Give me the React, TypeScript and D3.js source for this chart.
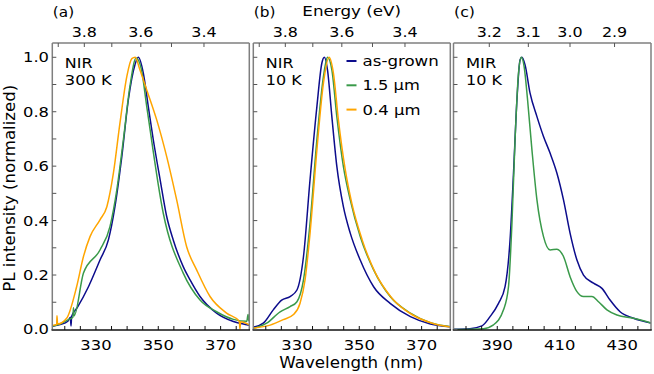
import React from "react";
import * as d3 from "d3";

const W = 654, H = 374;

// Panel (a) NIR 300 K
const aBlueNm = [316.0, 318.5, 321.0, 321.8, 322.0, 322.2, 324.0, 327.6, 331.3, 334.0, 336.1, 338.3, 340.4, 342.5, 343.6, 345.2, 346.8, 348.4, 350.6, 352.7, 354.8, 358.0, 360.2, 363.4, 368.7, 374.1, 378.4, 379.2];
const aBlueV = [0.012, 0.018, 0.03, 0.045, 0.013, 0.048, 0.08, 0.157, 0.255, 0.329, 0.451, 0.635, 0.844, 0.972, 1.0, 0.942, 0.819, 0.697, 0.55, 0.415, 0.329, 0.231, 0.182, 0.121, 0.06, 0.029, 0.017, 0.015];
const aGreenNm = [316.0, 318.5, 321.0, 322.6, 322.8, 323.0, 326.0, 331.3, 334.5, 336.7, 338.8, 340.9, 342.9, 344.5, 346.3, 351.6, 358.0, 363.4, 368.7, 374.1, 378.4, 378.8, 379.0, 379.2];
const aGreenV = [0.012, 0.02, 0.035, 0.045, 0.08, 0.05, 0.207, 0.292, 0.378, 0.513, 0.697, 0.893, 0.997, 0.96, 0.819, 0.427, 0.207, 0.108, 0.065, 0.037, 0.03, 0.055, 0.035, 0.03];
const aOrangeNm = [316.0, 317.4, 317.5, 317.7, 320.6, 323.8, 326.0, 328.1, 331.3, 333.5, 335.6, 337.7, 339.9, 341.5, 342.6, 344.1, 346.3, 349.5, 352.7, 355.9, 359.1, 362.3, 366.6, 371.9, 376.0, 376.2, 376.4, 379.2];
const aOrangeV = [0.015, 0.018, 0.05, 0.02, 0.041, 0.157, 0.268, 0.341, 0.403, 0.451, 0.574, 0.758, 0.929, 0.995, 1.0, 0.954, 0.88, 0.77, 0.635, 0.476, 0.304, 0.219, 0.121, 0.06, 0.03, 0.002, 0.028, 0.017];

// Panel (b) NIR 10 K
const bBlueNm = [316.0, 319.2, 322.4, 325.1, 327.8, 330.0, 332.1, 334.2, 336.4, 338.0, 338.8, 339.8, 341.2, 342.8, 344.9, 347.1, 350.3, 354.6, 359.9, 366.4, 372.8, 379.2];
const bBlueV = [0.008, 0.023, 0.072, 0.108, 0.121, 0.145, 0.268, 0.55, 0.819, 0.979, 1.0, 0.954, 0.782, 0.599, 0.451, 0.354, 0.255, 0.157, 0.096, 0.047, 0.02, 0.01];
const bGreenNm = [316.0, 320.3, 324.6, 327.8, 330.0, 332.1, 334.2, 336.4, 338.5, 339.8, 341.2, 342.8, 344.9, 347.1, 350.3, 354.6, 359.9, 366.4, 372.8, 379.2];
const bGreenV = [0.004, 0.023, 0.065, 0.084, 0.102, 0.182, 0.39, 0.697, 0.929, 1.0, 0.954, 0.782, 0.599, 0.476, 0.341, 0.219, 0.121, 0.06, 0.025, 0.01];
const bOrangeNm = [316.0, 321.4, 325.6, 328.9, 331.0, 332.6, 334.2, 336.4, 338.5, 340.3, 341.7, 343.3, 345.5, 347.6, 350.9, 355.2, 360.5, 367.0, 373.4, 379.2];
const bOrangeV = [0.005, 0.016, 0.036, 0.055, 0.096, 0.182, 0.353, 0.66, 0.905, 1.0, 0.942, 0.77, 0.587, 0.464, 0.33, 0.207, 0.115, 0.054, 0.023, 0.009];

// Panel (c) MIR 10 K
const cBlueNm = [376.0, 381.3, 385.1, 387.7, 390.4, 392.5, 394.1, 395.2, 396.3, 397.3, 397.9, 398.9, 400.5, 402.7, 404.8, 406.9, 409.1, 411.2, 413.3, 415.5, 417.6, 420.8, 423.5, 426.1, 429.3, 433.6, 439.2];
const cBlueV = [0.001, 0.003, 0.013, 0.047, 0.096, 0.157, 0.329, 0.574, 0.844, 0.99, 1.0, 0.972, 0.868, 0.782, 0.709, 0.648, 0.574, 0.476, 0.354, 0.255, 0.2, 0.17, 0.151, 0.108, 0.065, 0.041, 0.024];
const cGreenNm = [376.0, 385.6, 388.8, 392.0, 393.6, 394.7, 395.7, 396.8, 397.7, 398.6, 399.7, 401.1, 402.7, 404.8, 406.9, 409.1, 411.2, 413.3, 415.5, 417.6, 420.3, 422.4, 425.1, 428.3, 433.6, 439.2];
const cGreenV = [0.0, 0.003, 0.017, 0.072, 0.157, 0.39, 0.697, 0.942, 1.0, 0.966, 0.844, 0.66, 0.476, 0.341, 0.292, 0.295, 0.268, 0.194, 0.139, 0.121, 0.121, 0.102, 0.072, 0.053, 0.041, 0.024];

const seriesNames = ["as-grown", "1.5 µm", "0.4 µm"];
const seriesColors = ["#0c0c8c", "#3a9a4a", "#ffa500"];
const panelLetters = ["(a)", "(b)", "(c)"];
const panelNotes = [["NIR", "300 K"], ["NIR", "10 K"], ["MIR", "10 K"]];
const nmDomains: [number, number][] = [[316, 379.2], [316, 379.2], [376, 439.2]];
const nmTickLabels = [[330, 350, 370], [330, 350, 370], [390, 410, 430]];
const eVTicks = [[3.9, 3.8, 3.7, 3.6, 3.5, 3.4], [3.9, 3.8, 3.7, 3.6, 3.5, 3.4], [3.2, 3.1, 3.0, 2.9]];
const eVTickLabels = [[3.8, 3.6, 3.4], [3.8, 3.6, 3.4], [3.2, 3.1, 3.0, 2.9]];
const yTickLabels = [0.0, 0.2, 0.4, 0.6, 0.8, 1.0];

const panelX: [number, number][] = [[52.3, 249.3], [253.3, 450.3], [453.5, 651]];
const TOP = 43, BOTTOM = 330;
const FONT = "DejaVu Sans, sans-serif";
const HC = 1239.84;

// text widths in px (reference), used as textLength
const textW: Record<string, number> = {
  "NIR": 27.7, "300 K": 47, "10 K": 36, "MIR": 30.3,
  "(a)": 21.3, "(b)": 21.7, "(c)": 21,
  "as-grown": 76.3, "1.5 µm": 57.3, "0.4 µm": 58,
  "Energy (eV)": 98.7, "Wavelength (nm)": 144, "PL intensity (normalized)": 207,
};

const T = ({ x, y, anchor = "start", size = 14, len, children, rotate = 0 }: any) => (
  <text
    transform={`translate(${x},${y}) rotate(${rotate})`}
    textAnchor={anchor}
    fontSize={size}
    fontFamily={FONT}
    fill="#000"
    textLength={len}
    lengthAdjust="spacingAndGlyphs"
  >
    {children}
  </text>
);

export default function App() {
  const y = d3.scaleLinear().domain([-0.002, 1.0525]).range([BOTTOM, TOP]);
  const panels = [
    [[aBlueNm, aBlueV, 0], [aGreenNm, aGreenV, 1], [aOrangeNm, aOrangeV, 2]],
    [[bBlueNm, bBlueV, 0], [bGreenNm, bGreenV, 1], [bOrangeNm, bOrangeV, 2]],
    [[cBlueNm, cBlueV, 0], [cGreenNm, cGreenV, 1]],
  ] as [number[], number[], number][][];

  return (
    <svg width={W} height={H} style={{ position: "absolute", left: 0, top: 0 }}>
      <rect width={W} height={H} fill="#fff" />
      {panels.map((series, pi) => {
        const [x0, x1] = panelX[pi];
        const x = d3.scaleLinear().domain(nmDomains[pi]).range([x0, x1]);
        const line = d3
          .line<[number, number]>()
          .x((d) => x(d[0]))
          .y((d) => y(d[1]))
          .curve(d3.curveMonotoneX);
        const minor = d3.range(Math.ceil(nmDomains[pi][0] / 5) * 5, nmDomains[pi][1] + 0.01, 5);
        const yt = d3.range(0, 11).map((i) => i / 10);
        return (
          <g key={pi}>
            <defs>
              <clipPath id={`clip${pi}`}>
                <rect x={x0} y={TOP} width={x1 - x0} height={BOTTOM - TOP} />
              </clipPath>
            </defs>
            <g clipPath={`url(#clip${pi})`}>
              {series.map(([nm, v, ci]) => (
                <path
                  key={ci}
                  d={line(nm.map((n, i) => [n, v[i]]) as [number, number][]) || ""}
                  fill="none"
                  stroke={seriesColors[ci]}
                  strokeWidth={1.5}
                />
              ))}
            </g>
            {/* frame */}
            <line x1={x0} x2={x0} y1={TOP} y2={BOTTOM} stroke="#7f7f7f" strokeWidth={1.5} />
            <line x1={x1} x2={x1} y1={TOP} y2={BOTTOM} stroke="#7f7f7f" strokeWidth={1.5} />
            <line x1={x0} x2={x1} y1={TOP} y2={TOP} stroke="#7f7f7f" strokeWidth={1.5} />
            <line x1={x0 - 0.75} x2={x1 + 0.75} y1={BOTTOM} y2={BOTTOM} stroke="#111" strokeWidth={1.3} />
            {/* bottom ticks */}
            {minor.map((v) => (
              <line key={v} x1={x(v)} x2={x(v)} y1={BOTTOM} y2={BOTTOM - 4} stroke="#111" strokeWidth={1} />
            ))}
            {nmTickLabels[pi].map((v) => (
              <T key={v} x={x(v)} y={350} anchor="middle" size={14.3} len={31.3}>{v}</T>
            ))}
            {/* top ticks */}
            {eVTicks[pi].map((e) => {
              const px = x(HC / e);
              if (px < x0 + 1 || px > x1 - 1) return null;
              return <line key={e} x1={px} x2={px} y1={TOP} y2={TOP + 4} stroke="#555" strokeWidth={1} />;
            })}
            {eVTickLabels[pi].map((e) => (
              <T key={e} x={x(HC / e)} y={36.5} anchor="middle" size={14.3} len={25.3}>{e.toFixed(1)}</T>
            ))}
            {/* left ticks */}
            {yt.map((v) => (
              <line key={v} x1={x0} x2={x0 + 4} y1={y(v)} y2={y(v)} stroke="#555" strokeWidth={1} />
            ))}
            {pi === 0 &&
              yTickLabels.map((v) => (
                <T key={v} x={49} y={y(v) + 5} anchor="end" size={14.3} len={26}>{v.toFixed(1)}</T>
              ))}
            <T x={x0 + 0.5} y={17} size={14.3} len={textW[panelLetters[pi]]}>{panelLetters[pi]}</T>
            <T x={x0 + 12.5} y={67.5} size={14.5} len={textW[panelNotes[pi][0]]}>{panelNotes[pi][0]}</T>
            <T x={x0 + 12.5} y={84.5} size={14.5} len={textW[panelNotes[pi][1]]}>{panelNotes[pi][1]}</T>
          </g>
        );
      })}
      {/* legend in panel b */}
      {seriesNames.map((name, i) => (
        <g key={name}>
          <line x1={346.5} x2={356.5} y1={61 + i * 24.3} y2={61 + i * 24.3} stroke={seriesColors[i]} strokeWidth={2} />
          <T x={362.5} y={66 + i * 24.3} size={14.5} len={textW[name]}>{name}</T>
        </g>
      ))}
      <T x={351.7} y={15.5} anchor="middle" size={14.6} len={textW["Energy (eV)"]}>Energy (eV)</T>
      <T x={351.3} y={368} anchor="middle" size={16} len={textW["Wavelength (nm)"]}>Wavelength (nm)</T>
      <T x={15.3} y={188.2} anchor="middle" size={16.5} rotate={-90} len={textW["PL intensity (normalized)"]}>PL intensity (normalized)</T>
    </svg>
  );
}
